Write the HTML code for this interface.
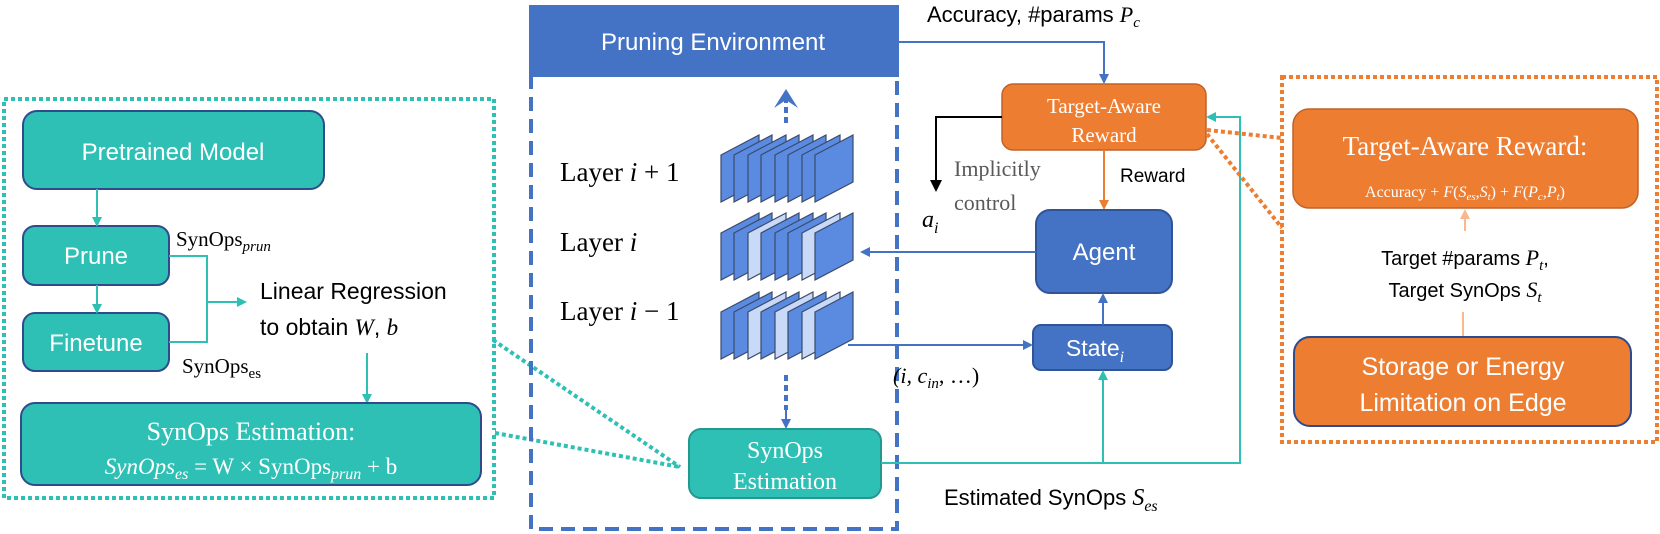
<!DOCTYPE html>
<html><head><meta charset="utf-8"><style>
html,body{margin:0;padding:0;background:#fff;}
svg{display:block;}
.s{font-family:"Liberation Sans",sans-serif;}
.r{font-family:"Liberation Serif",serif;}
</style></head><body>
<svg width="1660" height="534" viewBox="0 0 1660 534" xmlns="http://www.w3.org/2000/svg">
<defs>
<marker id="at" markerWidth="10" markerHeight="10" refX="8" refY="5" orient="auto" markerUnits="userSpaceOnUse"><path d="M0,0 L10,5 L0,10 Z" fill="#2EC0B4"/></marker>
<marker id="ab" markerWidth="10" markerHeight="10" refX="8" refY="5" orient="auto" markerUnits="userSpaceOnUse"><path d="M0,0 L10,5 L0,10 Z" fill="#4472C4"/></marker>
<marker id="ao" markerWidth="10" markerHeight="10" refX="8" refY="5" orient="auto" markerUnits="userSpaceOnUse"><path d="M0,0 L10,5 L0,10 Z" fill="#ED7D31"/></marker>
<marker id="alo" markerWidth="10" markerHeight="10" refX="8" refY="5" orient="auto" markerUnits="userSpaceOnUse"><path d="M0,0 L10,5 L0,10 Z" fill="#F8B98C"/></marker>
<marker id="ak" markerWidth="12" markerHeight="12" refX="10" refY="6" orient="auto" markerUnits="userSpaceOnUse"><path d="M0,0 L12,6 L0,12 Z" fill="#000"/></marker>
</defs>

<!-- left dotted teal box -->
<rect x="4" y="99" width="490" height="399" fill="none" stroke="#2EC0B4" stroke-width="4" stroke-dasharray="4 3"/>
<!-- dotted connectors -->
<path d="M493,340 L680,467" fill="none" stroke="#2EC0B4" stroke-width="4" stroke-dasharray="4 3"/>
<path d="M495,433 L680,467" fill="none" stroke="#2EC0B4" stroke-width="4" stroke-dasharray="4 3"/>
<rect x="480" y="430" width="15" height="4" fill="#fff"/>

<!-- left boxes -->
<rect x="23" y="111" width="301" height="78" rx="14" fill="#2EC0B4" stroke="#2F4B8C" stroke-width="2"/>
<text x="173" y="160" class="s" font-size="24" fill="#fff" text-anchor="middle">Pretrained Model</text>
<rect x="23" y="226" width="146" height="59" rx="12" fill="#2EC0B4" stroke="#2F4B8C" stroke-width="2"/>
<text x="96" y="264" class="s" font-size="24" fill="#fff" text-anchor="middle">Prune</text>
<rect x="23" y="313" width="146" height="58" rx="12" fill="#2EC0B4" stroke="#2F4B8C" stroke-width="2"/>
<text x="96" y="351" class="s" font-size="24" fill="#fff" text-anchor="middle">Finetune</text>
<line x1="97" y1="189" x2="97" y2="225" stroke="#2EC0B4" stroke-width="2" marker-end="url(#at)"/>
<line x1="97" y1="285" x2="97" y2="312" stroke="#2EC0B4" stroke-width="2" marker-end="url(#at)"/>
<path d="M169,256 H207 V342 H169" fill="none" stroke="#2EC0B4" stroke-width="2"/>
<line x1="207" y1="302" x2="245" y2="302" stroke="#2EC0B4" stroke-width="2" marker-end="url(#at)"/>
<text x="176" y="246" class="r" font-size="21">SynOps<tspan font-size="15" font-style="italic" dy="5">prun</tspan></text>
<text x="182" y="373" class="r" font-size="21">SynOps<tspan font-size="15" dy="5">es</tspan></text>
<text x="260" y="299" class="s" font-size="23">Linear Regression</text>
<text x="260" y="335" class="s" font-size="23">to obtain <tspan font-style="italic" class="r">W</tspan>, <tspan font-style="italic" class="r">b</tspan></text>
<line x1="367" y1="353" x2="367" y2="402" stroke="#2EC0B4" stroke-width="2" marker-end="url(#at)"/>
<rect x="21" y="403" width="460" height="82" rx="14" fill="#2EC0B4" stroke="#2F4B8C" stroke-width="2"/>
<text x="251" y="440" class="r" font-size="26" fill="#fff" text-anchor="middle">SynOps Estimation:</text>
<text x="251" y="474" class="r" font-size="23" fill="#fff" text-anchor="middle"><tspan font-style="italic">SynOps</tspan><tspan font-style="italic" font-size="16" dy="5">es</tspan><tspan dy="-5"> = W × SynOps</tspan><tspan font-style="italic" font-size="16" dy="5">prun</tspan><tspan dy="-5"> + b</tspan></text>

<!-- pruning environment -->
<rect x="531" y="7" width="366" height="522" fill="none" stroke="#4472C4" stroke-width="4" stroke-dasharray="14 8"/>
<rect x="529" y="5" width="370" height="72" fill="#4472C4"/>
<text x="713" y="50" class="s" font-size="24" fill="#fff" text-anchor="middle">Pruning Environment</text>

<!-- layers labels -->
<text x="560" y="181" class="r" font-size="27">Layer <tspan font-style="italic">i</tspan> + 1</text>
<text x="560" y="251" class="r" font-size="27">Layer <tspan font-style="italic">i</tspan></text>
<text x="560" y="320" class="r" font-size="27">Layer <tspan font-style="italic">i</tspan> − 1</text>

<!-- stacks -->
<g stroke="#3A4A6B" stroke-width="1.2">
<g id="L1" transform="translate(0,135)">
<polygon points="721,20 759,0 759,47 721,67" fill="#5B8BE0"/>
<polygon points="734,20 772,0 772,47 734,67" fill="#5B8BE0"/>
<polygon points="748,20 786,0 786,47 748,67" fill="#5B8BE0"/>
<polygon points="761,20 799,0 799,47 761,67" fill="#5B8BE0"/>
<polygon points="775,20 813,0 813,47 775,67" fill="#5B8BE0"/>
<polygon points="788,20 826,0 826,47 788,67" fill="#5B8BE0"/>
<polygon points="802,20 840,0 840,47 802,67" fill="#5B8BE0"/>
<polygon points="815,20 853,0 853,47 815,67" fill="#5B8BE0"/>
</g>
<g transform="translate(0,213)">
<polygon points="721,20 759,0 759,47 721,67" fill="#5B8BE0"/>
<polygon points="734,20 772,0 772,47 734,67" fill="#5B8BE0"/>
<polygon points="748,20 786,0 786,47 748,67" fill="#C9DAF8"/>
<polygon points="761,20 799,0 799,47 761,67" fill="#5B8BE0"/>
<polygon points="775,20 813,0 813,47 775,67" fill="#5B8BE0"/>
<polygon points="788,20 826,0 826,47 788,67" fill="#5B8BE0"/>
<polygon points="802,20 840,0 840,47 802,67" fill="#C9DAF8"/>
<polygon points="815,20 853,0 853,47 815,67" fill="#5B8BE0"/>
</g>
<g transform="translate(0,292)">
<polygon points="721,20 759,0 759,47 721,67" fill="#5B8BE0"/>
<polygon points="734,20 772,0 772,47 734,67" fill="#5B8BE0"/>
<polygon points="748,20 786,0 786,47 748,67" fill="#C9DAF8"/>
<polygon points="761,20 799,0 799,47 761,67" fill="#5B8BE0"/>
<polygon points="775,20 813,0 813,47 775,67" fill="#C9DAF8"/>
<polygon points="788,20 826,0 826,47 788,67" fill="#5B8BE0"/>
<polygon points="802,20 840,0 840,47 802,67" fill="#C9DAF8"/>
<polygon points="815,20 853,0 853,47 815,67" fill="#5B8BE0"/>
</g>
</g>
<!-- dashed arrows -->
<line x1="786" y1="123" x2="786" y2="100" stroke="#4472C4" stroke-width="4" stroke-dasharray="6 4"/>
<path d="M774,108 L786,89 L798,108 L786,100 Z" fill="#4472C4"/>
<line x1="786" y1="375" x2="786" y2="410" stroke="#4472C4" stroke-width="4" stroke-dasharray="6 4"/>
<line x1="786" y1="405" x2="786" y2="427" stroke="#4472C4" stroke-width="2" marker-end="url(#ab)"/>

<!-- small SynOps Estimation -->
<rect x="689" y="429" width="192" height="69" rx="12" fill="#2EC0B4" stroke="#23988E" stroke-width="2"/>
<text x="785" y="458" class="r" font-size="24" fill="#fff" text-anchor="middle">SynOps</text>
<text x="785" y="489" class="r" font-size="24" fill="#fff" text-anchor="middle">Estimation</text>

<!-- top right arrow -->
<text x="927" y="22" class="s" font-size="22">Accuracy, #params <tspan font-style="italic" class="r">P</tspan><tspan font-style="italic" class="r" font-size="15" dy="5">c</tspan></text>
<path d="M897,42 H1104 V82" fill="none" stroke="#4472C4" stroke-width="2" marker-end="url(#ab)"/>

<!-- target aware reward -->
<rect x="1002" y="84" width="204" height="66" rx="11" fill="#ED7D31" stroke="#C0622A" stroke-width="1.5"/>
<text x="1104" y="113" class="r" font-size="21" fill="#fff" text-anchor="middle">Target-Aware</text>
<text x="1104" y="142" class="r" font-size="21" fill="#fff" text-anchor="middle">Reward</text>
<path d="M1002,117 H936 V190" fill="none" stroke="#000" stroke-width="2" marker-end="url(#ak)"/>
<text x="954" y="176" class="r" font-size="22" fill="#595959">Implicitly</text>
<text x="954" y="210" class="r" font-size="22" fill="#595959">control</text>
<text x="922" y="227" class="r" font-size="24" font-style="italic">a<tspan font-size="16" dy="6">i</tspan></text>
<text x="1120" y="182" class="s" font-size="19">Reward</text>
<line x1="1104" y1="150" x2="1104" y2="208" stroke="#ED7D31" stroke-width="2" marker-end="url(#ao)"/>

<!-- Agent -->
<rect x="1036" y="210" width="136" height="83" rx="14" fill="#4472C4" stroke="#2F5597" stroke-width="2"/>
<text x="1104" y="260" class="s" font-size="24" fill="#fff" text-anchor="middle">Agent</text>
<line x1="1036" y1="252" x2="862" y2="252" stroke="#4472C4" stroke-width="2" marker-end="url(#ab)"/>
<rect x="1033" y="325" width="139" height="45" rx="8" fill="#4472C4" stroke="#2F5597" stroke-width="2"/>
<text x="1095" y="356" class="s" font-size="23" fill="#fff" text-anchor="middle">State<tspan font-style="italic" class="r" font-size="16" dy="6">i</tspan></text>
<line x1="1103" y1="325" x2="1103" y2="295" stroke="#4472C4" stroke-width="2" marker-end="url(#ab)"/>
<line x1="848" y1="345" x2="1031" y2="345" stroke="#4472C4" stroke-width="2" marker-end="url(#ab)"/>
<text x="893" y="383" class="r" font-size="22" font-style="italic">(i, c<tspan font-size="15" dy="5">in</tspan><tspan dy="-5" font-style="normal">, …)</tspan></text>

<!-- teal feedback line -->
<path d="M881,463 H1240 V117 H1208" fill="none" stroke="#2EC0B4" stroke-width="2" marker-end="url(#at)"/>
<line x1="1103" y1="463" x2="1103" y2="372" stroke="#2EC0B4" stroke-width="2" marker-end="url(#at)"/>
<text x="944" y="505" class="s" font-size="22">Estimated SynOps <tspan font-style="italic" class="r" font-size="24">S</tspan><tspan font-style="italic" class="r" font-size="16" dy="6">es</tspan></text>

<!-- orange dotted box -->
<rect x="1282" y="77" width="375" height="365" fill="none" stroke="#ED7D31" stroke-width="4" stroke-dasharray="4 3"/>
<path d="M1207,130 L1282,138" stroke="#ED7D31" stroke-width="4" stroke-dasharray="4 3"/>
<path d="M1207,134 L1282,228" stroke="#ED7D31" stroke-width="4" stroke-dasharray="4 3"/>
<rect x="1293" y="109" width="345" height="99" rx="16" fill="#ED7D31" stroke="#C0622A" stroke-width="1.5"/>
<text x="1465" y="155" class="r" font-size="27" fill="#fff" text-anchor="middle">Target-Aware Reward:</text>
<text x="1465" y="197" class="r" font-size="16" fill="#fff" text-anchor="middle">Accuracy + <tspan font-style="italic">F</tspan>(<tspan font-style="italic">S</tspan><tspan font-style="italic" font-size="11" dy="3">es</tspan><tspan dy="-3">,</tspan><tspan font-style="italic">S</tspan><tspan font-style="italic" font-size="11" dy="3">t</tspan><tspan dy="-3">) + </tspan><tspan font-style="italic">F</tspan>(<tspan font-style="italic">P</tspan><tspan font-style="italic" font-size="11" dy="3">c</tspan><tspan dy="-3">,</tspan><tspan font-style="italic">P</tspan><tspan font-style="italic" font-size="11" dy="3">t</tspan><tspan dy="-3">)</tspan></text>
<line x1="1465" y1="231" x2="1465" y2="211" stroke="#F8B98C" stroke-width="2" marker-end="url(#alo)"/>
<text x="1465" y="265" class="s" font-size="20" text-anchor="middle">Target #params <tspan font-style="italic" class="r" font-size="22">P</tspan><tspan font-style="italic" class="r" font-size="15" dy="5">t</tspan><tspan dy="-5">,</tspan></text>
<text x="1465" y="297" class="s" font-size="20" text-anchor="middle">Target SynOps <tspan font-style="italic" class="r" font-size="22">S</tspan><tspan font-style="italic" class="r" font-size="15" dy="5">t</tspan></text>
<line x1="1463" y1="312" x2="1463" y2="337" stroke="#F8B98C" stroke-width="2"/>
<rect x="1294" y="337" width="337" height="89" rx="16" fill="#ED7D31" stroke="#2F4B8C" stroke-width="2"/>
<text x="1463" y="375" class="s" font-size="25" fill="#fff" text-anchor="middle">Storage or Energy</text>
<text x="1463" y="411" class="s" font-size="25" fill="#fff" text-anchor="middle">Limitation on Edge</text>
</svg>
</body></html>
